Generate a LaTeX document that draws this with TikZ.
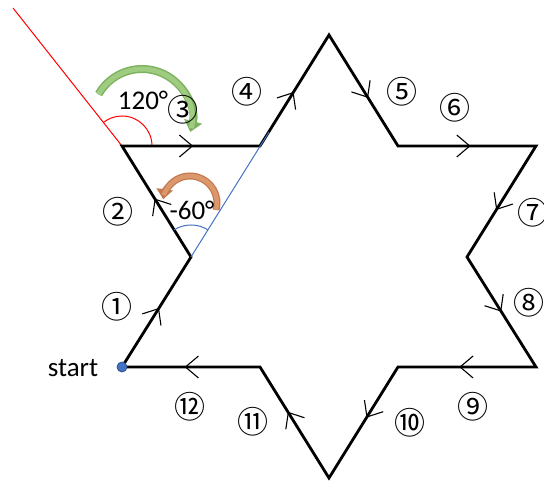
\documentclass[tikz,border=0pt]{standalone}
\usepackage{fontspec}
\setmainfont{Carlito}
\newfontfamily\cjk{Noto Sans CJK JP}
\usetikzlibrary{decorations.markings,arrows.meta}
\definecolor{blueln}{RGB}{68,114,196}
\definecolor{greenarr}{RGB}{160,204,130}
\definecolor{greenedge}{RGB}{125,178,95}
\definecolor{orangearr}{RGB}{218,152,108}
\definecolor{orangeedge}{RGB}{196,120,75}
\definecolor{dotedge}{RGB}{47,82,143}
\begin{document}
\begin{tikzpicture}[x=1pt,y=1pt,
  edge/.style={line width=2.8pt, line join=miter},
  midarrow/.style={postaction={decorate},decoration={markings,
     mark=at position #1 with {\draw[line width=1.1pt,line join=miter] (-13pt,11pt) -- (0pt,0pt) -- (-13pt,-11pt);}}},
  circnum/.style={font=\cjk\fontsize{31}{34}\selectfont, inner sep=0pt},
  lbl/.style={font=\fontsize{27}{30}\selectfont, inner sep=0pt},
  thinln/.style={line width=1pt}]
\useasboundingbox (0,0) rectangle (544,481);
% vertices
\coordinate (S) at (122,114);
\coordinate (P1) at (191,224);
\coordinate (P2) at (122,335);
\coordinate (P3) at (260,335);
\coordinate (P4) at (329,446);
\coordinate (P5) at (398,335);
\coordinate (P6) at (536,335);
\coordinate (P7) at (467,224);
\coordinate (P8) at (536,114);
\coordinate (P9) at (398,114);
\coordinate (P10) at (329,3);
\coordinate (P11) at (260,114);
\coordinate (R) at (13,473);
\coordinate (B) at (269,349);
% red construction line and arc
\draw[red, thinln] (R) -- (P2);
\draw[red, thinln] ([shift={(0:30)}]P2) arc[start angle=0, end angle=128, radius=30];
% star outline
\draw[edge] (S) -- (P1) -- (P2) -- (P3) -- (P4) -- (P5) -- (P6) -- (P7) -- (P8) -- (P9) -- (P10) -- (P11) -- cycle;
% direction marks
\path[midarrow=0.53] (S) -- (P1);
\path[midarrow=0.52] (P1) -- (P2);
\path[midarrow=0.51] (P2) -- (P3);
\path[midarrow=0.48] (P3) -- (P4);
\path[midarrow=0.56] (P4) -- (P5);
\path[midarrow=0.52] (P5) -- (P6);
\path[midarrow=0.57] (P6) -- (P7);
\path[midarrow=0.49] (P7) -- (P8);
\path[midarrow=0.55] (P8) -- (P9);
\path[midarrow=0.45] (P9) -- (P10);
\path[midarrow=0.59] (P10) -- (P11);
\path[midarrow=0.54] (P11) -- (S);
% blue construction line and arc
\draw[blueln, thinln] (P1) -- (B);
\draw[blueln, thinln] ([shift={(58:32)}]P1) arc[start angle=58, end angle=122, radius=32];
% turning arrows
\coordinate (gc) at (142,362);
\draw[greenedge, line width=8pt, -{Triangle[width=18pt,length=11pt]}]
  ([shift={(150:50)}]gc) arc[start angle=150, end angle=-15, radius=50];
\draw[greenarr, line width=5pt, shorten >=4pt]
  ([shift={(150.6:50)}]gc) arc[start angle=150.6, end angle=-15, radius=50];
\coordinate (oc) at (190,278);
\draw[orangeedge, line width=7pt, -{Triangle[width=16pt,length=10pt]}]
  ([shift={(-15:27)}]oc) arc[start angle=-15, end angle=172, radius=27];
\draw[orangearr, line width=4.5pt, shorten >=4pt]
  ([shift={(-14:27)}]oc) arc[start angle=-14, end angle=172, radius=27];
% angle labels
\node[lbl] (t120) at (143,381) {120°};
\node[lbl] (t60) at (192,271) {-60°};
% start
\fill[blueln, draw=dotedge, line width=0.8pt] (S) circle (5pt);
\node[lbl] (tstart) at (73,113) {start};
% step numbers
\node[circnum] (l1) at (117,174) {①};
\node[circnum] (l2) at (118,269) {②};
\node[circnum] (l3) at (183,371) {③};
\node[circnum] (l4) at (247,389) {④};
\node[circnum] (l5) at (402,389) {⑤};
\node[circnum] (l6) at (455,373) {⑥};
\node[circnum] (l7) at (533,268) {⑦};
\node[circnum] (l8) at (529,178) {⑧};
\node[circnum] (l9) at (473,74) {⑨};
\node[circnum] (l10) at (410,58) {⑩};
\node[circnum] (l11) at (253,59) {⑪};
\node[circnum] (l12) at (190,74) {⑫};
\end{tikzpicture}
\end{document}
